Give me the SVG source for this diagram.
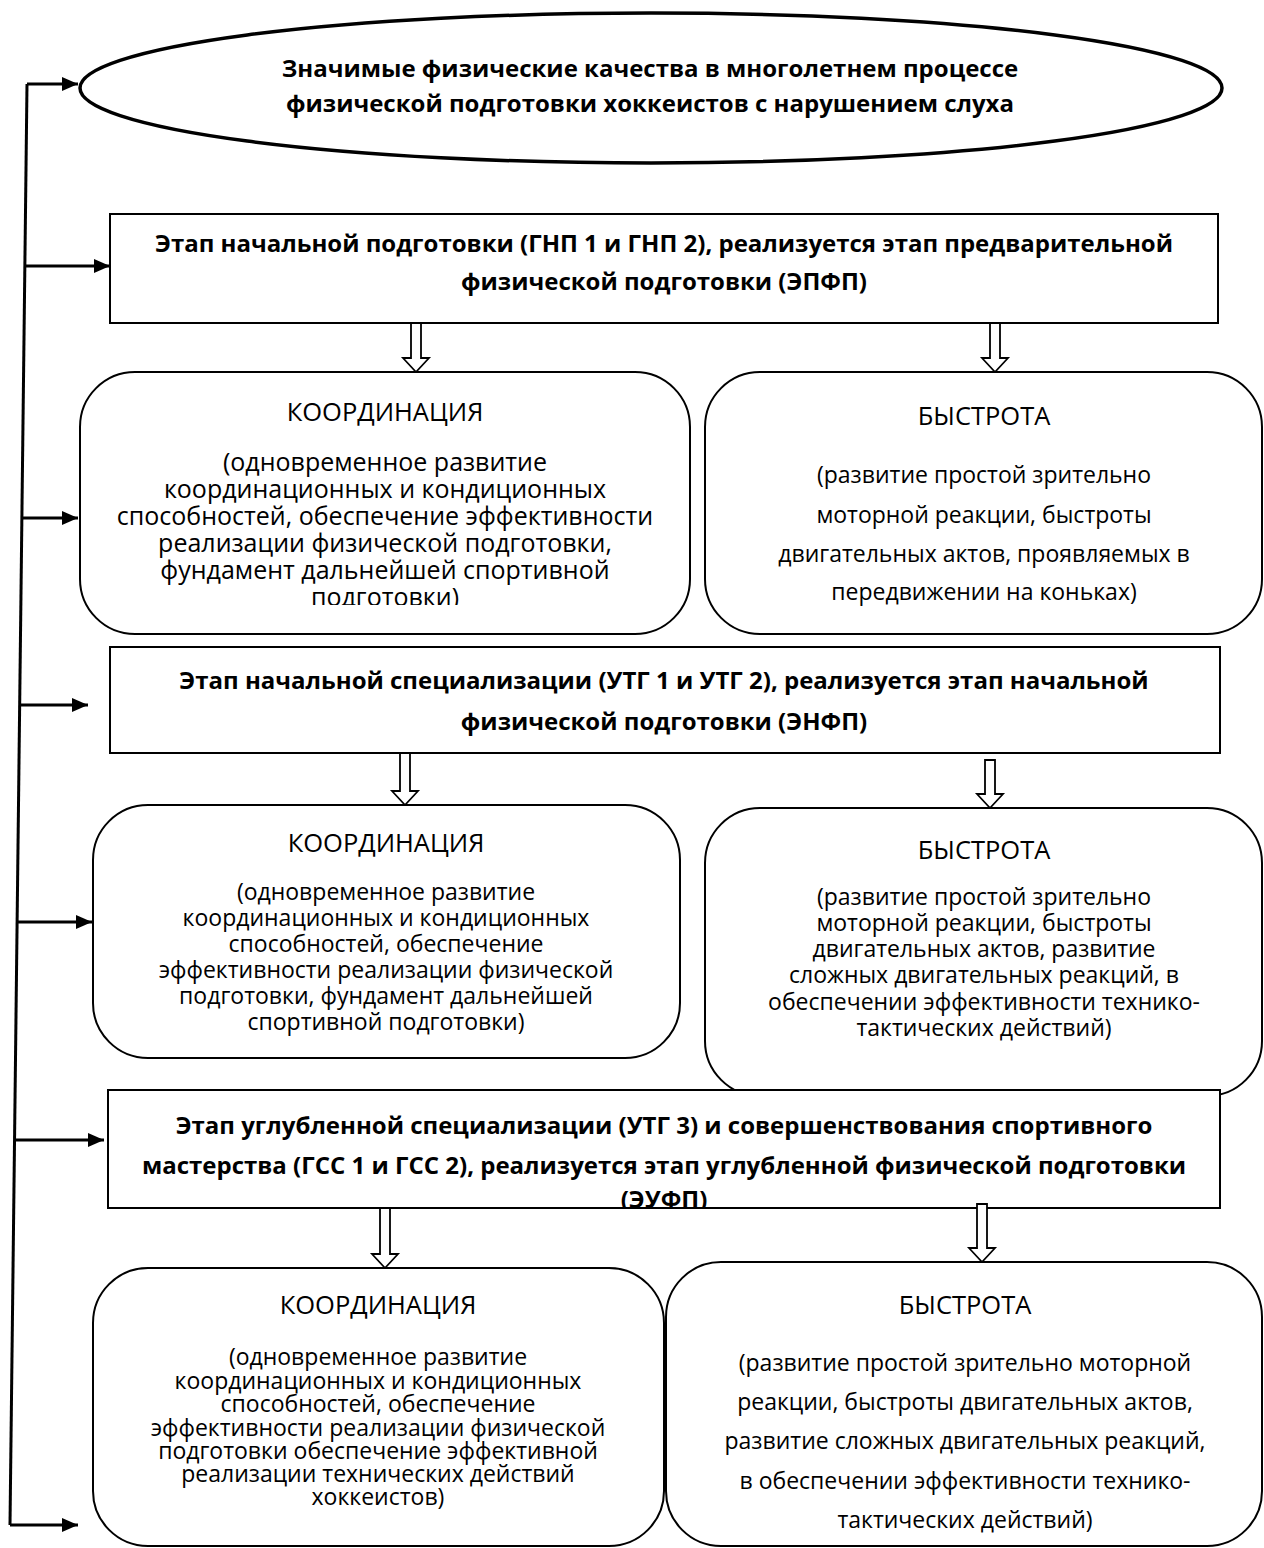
<svg xmlns="http://www.w3.org/2000/svg" width="1264" height="1548" viewBox="0 0 1264 1548">
<style>
.box{fill:#fff;stroke:#000;stroke-width:2}
.ell{fill:#fff;stroke:#000;stroke-width:3.5}
.t{font-family:"Open Sans","Noto Sans",sans-serif;font-size:23px;fill:#000;text-anchor:middle}
.b{font-weight:bold;font-size:24px}
.h{font-size:25.5px}
.l{font-size:25px}
.conn{fill:none;stroke:#000;stroke-width:3}
.hol{fill:#fff;stroke:#000;stroke-width:1.8;stroke-linejoin:miter}
</style>
<defs>
<marker id="ah" markerUnits="userSpaceOnUse" markerWidth="16" markerHeight="14" refX="16" refY="7" orient="auto">
<path d="M0,0 L16,7 L0,14 Z" fill="#000"/>
</marker>
<clipPath id="c2"><rect x="80" y="372" width="610" height="233"/></clipPath>
<clipPath id="c7"><rect x="108" y="1090" width="1112" height="117"/></clipPath>
</defs>

<g id="connectors">
<line class="conn" x1="27" y1="84" x2="10" y2="1525"/>
<line class="conn" x1="27" y1="84" x2="78" y2="84" marker-end="url(#ah)"/>
<line class="conn" x1="25" y1="266" x2="110" y2="266" marker-end="url(#ah)"/>
<line class="conn" x1="22" y1="518" x2="78" y2="518" marker-end="url(#ah)"/>
<line class="conn" x1="20" y1="705" x2="88" y2="705" marker-end="url(#ah)"/>
<line class="conn" x1="17" y1="922" x2="92" y2="922" marker-end="url(#ah)"/>
<line class="conn" x1="14.5" y1="1140" x2="104" y2="1140" marker-end="url(#ah)"/>
<line class="conn" x1="10" y1="1525" x2="78" y2="1525" marker-end="url(#ah)"/>
</g>

<g id="title">
<ellipse class="ell" cx="651" cy="88" rx="571" ry="75"/>
<text class="t b" x="650" y="77">Значимые физические качества в многолетнем процессе</text>
<text class="t b" x="650" y="112">физической подготовки хоккеистов с нарушением слуха</text>
</g>

<g id="stage1">
<rect class="box" x="110" y="214" width="1108" height="109"/>
<text class="t b" x="664" y="252">Этап начальной подготовки (ГНП 1 и ГНП 2), реализуется этап предварительной</text>
<text class="t b" x="664" y="290">физической подготовки (ЭПФП)</text>
</g>

<g id="coord1">
<rect class="box" x="80" y="372" width="610" height="262" rx="55" ry="55"/>
<g clip-path="url(#c2)">
<text class="t h" x="385" y="421">КООРДИНАЦИЯ</text>
<text class="t l" x="385" y="471">(одновременное развитие</text>
<text class="t l" x="385" y="498">координационных и кондиционных</text>
<text class="t l" x="385" y="525">способностей, обеспечение эффективности</text>
<text class="t l" x="385" y="552">реализации физической подготовки,</text>
<text class="t l" x="385" y="579">фундамент дальнейшей спортивной</text>
<text class="t l" x="385" y="606">подготовки)</text>
</g>
</g>

<g id="speed1">
<rect class="box" x="705" y="372" width="557" height="262" rx="55" ry="55"/>
<text class="t h" x="984" y="425">БЫСТРОТА</text>
<text class="t" x="984" y="483">(развитие простой зрительно</text>
<text class="t" x="984" y="523">моторной реакции, быстроты</text>
<text class="t" x="984" y="562">двигательных актов, проявляемых в</text>
<text class="t" x="984" y="600">передвижении на коньках)</text>
</g>

<g id="stage2">
<rect class="box" x="110" y="647" width="1110" height="106"/>
<text class="t b" x="664" y="689">Этап начальной специализации (УТГ 1 и УТГ 2), реализуется этап начальной</text>
<text class="t b" x="664" y="730">физической подготовки (ЭНФП)</text>
</g>

<g id="coord2">
<rect class="box" x="93" y="805" width="587" height="253" rx="55" ry="55"/>
<text class="t h" x="386" y="852">КООРДИНАЦИЯ</text>
<text class="t" x="386" y="900">(одновременное развитие</text>
<text class="t" x="386" y="926">координационных и кондиционных</text>
<text class="t" x="386" y="952">способностей, обеспечение</text>
<text class="t" x="386" y="978">эффективности реализации физической</text>
<text class="t" x="386" y="1004">подготовки, фундамент дальнейшей</text>
<text class="t" x="386" y="1030">спортивной подготовки)</text>
</g>

<g id="speed2">
<rect class="box" x="705" y="808" width="557" height="288" rx="55" ry="55"/>
<text class="t h" x="984" y="859">БЫСТРОТА</text>
<text class="t" x="984" y="905">(развитие простой зрительно</text>
<text class="t" x="984" y="931">моторной реакции, быстроты</text>
<text class="t" x="984" y="957">двигательных актов, развитие</text>
<text class="t" x="984" y="983">сложных двигательных реакций, в</text>
<text class="t" x="984" y="1010">обеспечении эффективности технико-</text>
<text class="t" x="984" y="1036">тактических действий)</text>
</g>

<g id="stage3">
<rect class="box" x="108" y="1090" width="1112" height="118"/>
<g clip-path="url(#c7)">
<text class="t b" x="664" y="1134">Этап углубленной специализации (УТГ 3) и совершенствования спортивного</text>
<text class="t b" x="664" y="1174">мастерства (ГСС 1 и ГСС 2), реализуется этап углубленной физической подготовки</text>
<text class="t b" x="664" y="1208">(ЭУФП)</text>
</g>
</g>

<g id="coord3">
<rect class="box" x="93" y="1268" width="571" height="278" rx="55" ry="55"/>
<text class="t h" x="378" y="1314">КООРДИНАЦИЯ</text>
<text class="t" x="378" y="1365">(одновременное развитие</text>
<text class="t" x="378" y="1389">координационных и кондиционных</text>
<text class="t" x="378" y="1412">способностей, обеспечение</text>
<text class="t" x="378" y="1436">эффективности реализации физической</text>
<text class="t" x="378" y="1459">подготовки обеспечение эффективной</text>
<text class="t" x="378" y="1482">реализации технических действий</text>
<text class="t" x="378" y="1505">хоккеистов)</text>
</g>

<g id="speed3">
<rect class="box" x="666" y="1262" width="596" height="284" rx="55" ry="55"/>
<text class="t h" x="965" y="1314">БЫСТРОТА</text>
<text class="t" x="965" y="1371">(развитие простой зрительно моторной</text>
<text class="t" x="965" y="1410">реакции, быстроты двигательных актов,</text>
<text class="t" x="965" y="1449">развитие сложных двигательных реакций,</text>
<text class="t" x="965" y="1489">в обеспечении эффективности технико-</text>
<text class="t" x="965" y="1528">тактических действий)</text>
</g>

<g id="flow-arrows">
<path class="hol" d="M411,323 V358 H403 L416,372 L429,358 H421 V323 Z"/>
<path class="hol" d="M990,323 V358 H982 L995,372 L1008,358 H1000 V323 Z"/>
<path class="hol" d="M400,753 V791 H392 L405,805 L418,791 H410 V753 Z"/>
<path class="hol" d="M985,760 V794 H977 L990,808 L1003,794 H995 V760 Z"/>
<path class="hol" d="M380,1208 V1254 H372 L385,1268 L398,1254 H390 V1208 Z"/>
<path class="hol" d="M977,1204 V1248 H969 L982,1262 L995,1248 H987 V1204 Z"/>
</g>
</svg>
